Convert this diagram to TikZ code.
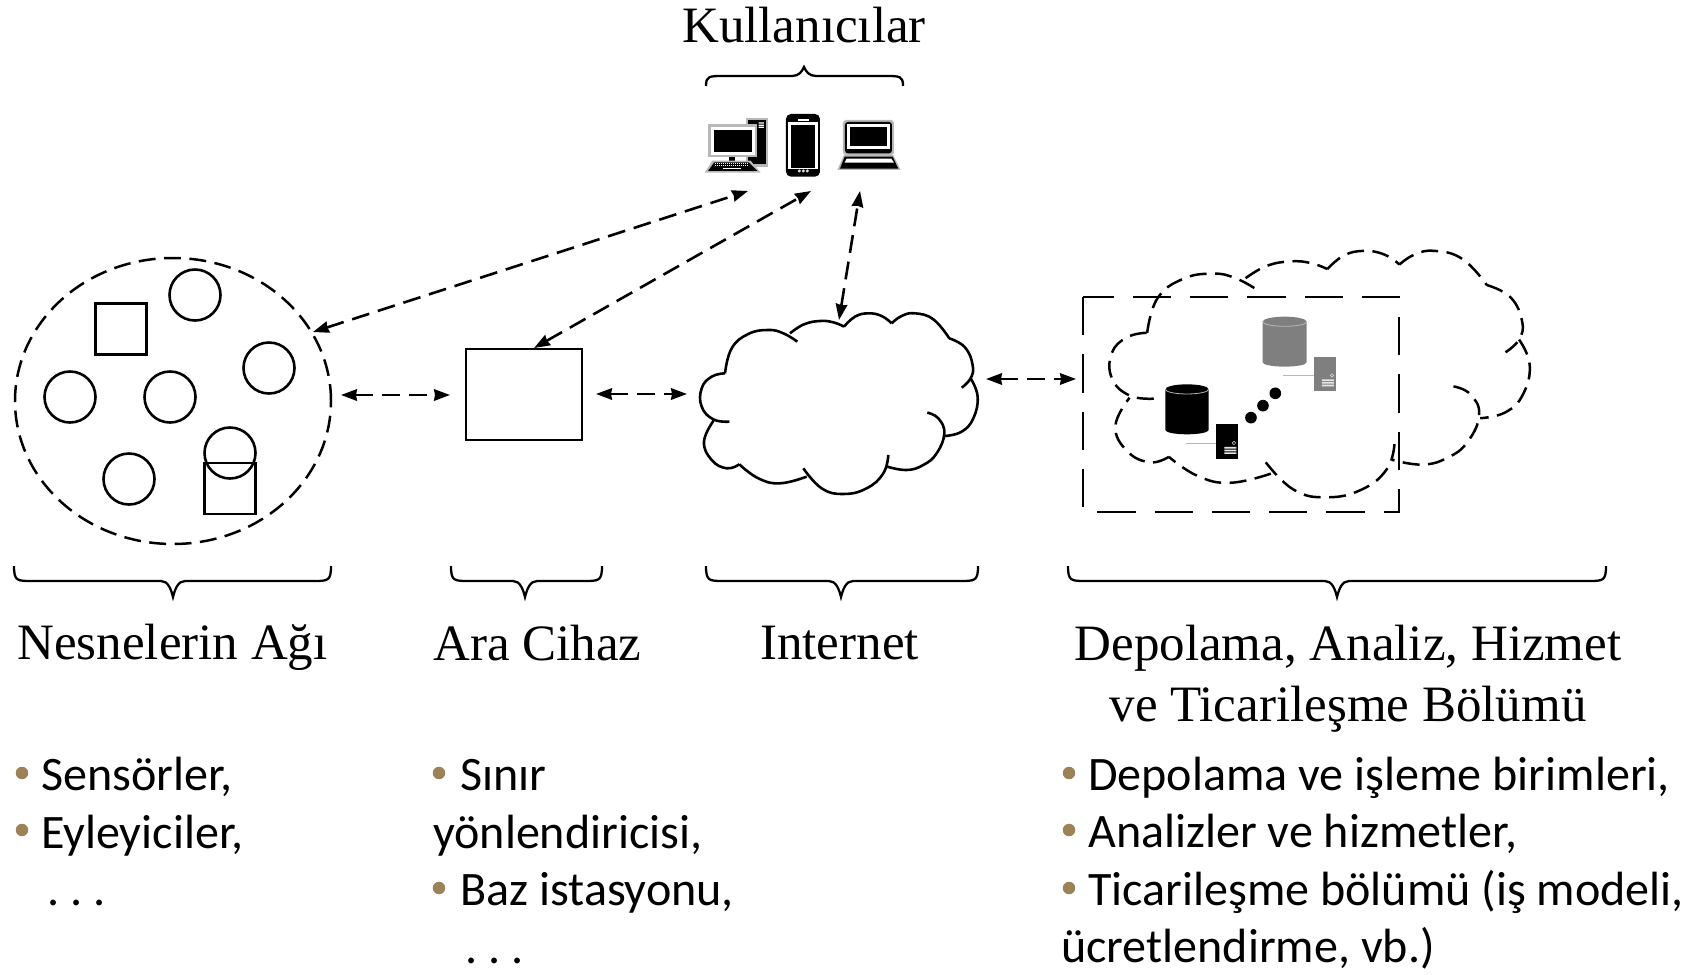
\documentclass[tikz,border=0pt]{standalone}
\usepackage{fontspec}
\usetikzlibrary{shapes.geometric,arrows.meta}
\setmainfont{Liberation Serif}
\newfontfamily\bodyfont{Carlito}
\definecolor{bulletcol}{HTML}{9B8357}
\definecolor{halo}{HTML}{B8B8B8}
\definecolor{dbgray}{HTML}{7F7F7F}
\tikzset{
  shapeline/.style={draw=black,line width=2.6pt},
  thing/.style={circle,shapeline,minimum size=51bp,inner sep=0pt},
  sqthing/.style={rectangle,shapeline,minimum size=51bp,inner sep=0pt},
  link/.style={line width=2.6pt,dash pattern=on 18pt off 9pt,{Stealth[length=16pt,width=11.5pt,inset=1pt]}-{Stealth[length=16pt,width=11.5pt,inset=1pt]}},
  brace/.style={line width=2.3pt},
  title/.style={font=\fontsize{51.2}{51.2}\selectfont,anchor=base,inner sep=0pt},
  body/.style={font=\bodyfont\fontsize{48.25}{48.25}\selectfont,anchor=base west,inner sep=0pt},
  bul/.style={circle,fill=bulletcol,inner sep=0pt,minimum size=12.5pt},
}
\newcommand{\curly}[6]{% x1 x2 xm yend yline ytip
  \draw[brace] (#1,#4) .. controls (#1,#5) and (#1+3,#5) .. (#1+18,#5) -- (#3-12,#5)
    .. controls (#3-5,#5) and (#3-2,#5+#6*.5-#5*.5) .. (#3,#6)
    .. controls (#3+2,#5+#6*.5-#5*.5) and (#3+5,#5) .. (#3+12,#5) -- (#2-18,#5)
    .. controls (#2-3,#5) and (#2,#5) .. (#2,#4);}
\newcommand{\cloudlobes}{%
  plot[smooth,tension=.75] coordinates {(135,250) (155,175) (205,132) (265,120) (310,130) (352,155)}
  plot[smooth,tension=.75] coordinates {(330,130) (372,103) (420,93) (460,97) (492,110)}
  plot[smooth,tension=.75] coordinates {(492,110) (525,80) (565,70) (605,78) (635,100)}
  plot[smooth,tension=.75] coordinates {(635,100) (665,78) (705,70) (760,88) (808,145)}
  plot[smooth,tension=.75] coordinates {(808,145) (855,172) (878,225) (872,265) (845,293)}
  plot[smooth,tension=.75] coordinates {(872,265) (893,320) (880,385) (845,425) (795,438)}
  plot[smooth,tension=.75] coordinates {(742,368) (775,385) (793,430) (770,490) (730,525) (680,540) (622,530)}
  plot[smooth,tension=.75] coordinates {(625,495) (610,550) (560,595) (490,612) (425,595) (370,535)}
  plot[smooth,tension=.75] coordinates {(380,560) (300,580) (235,565) (178,523)}
  plot[smooth,tension=.75] coordinates {(178,523) (140,535) (95,510) (72,455) (100,393)}
  plot[smooth,tension=.75] coordinates {(148,395) (100,388) (65,350) (65,295) (95,260) (135,250)}
}
\frenchspacing
\begin{document}
\begin{tikzpicture}[x=1bp,y=-1bp]
\useasboundingbox (0,0) rectangle (1691,974);
% --- things network
\node[ellipse,draw=black,line width=2.5pt,dash pattern=on 17pt off 8.5pt,minimum width=316bp,minimum height=286bp,inner sep=0pt] (net) at (173,401) {};
\foreach \n/\x/\y in {a/195/295,b/269/368,c/70/397,d/170/397,e/230/453,f/129/479}
  \node[thing] (\n) at (\x,\y) {};
\node[sqthing] (s1) at (121,329) {};
\node[sqthing] (s2) at (230,488.5) {};
% --- middle box
\node[rectangle,shapeline,minimum width=116bp,minimum height=91bp,inner sep=0pt] (gw) at (524,394.5) {};
% --- internet cloud
\begin{scope}[shift={(680,290)},x=.3333bp,y=-.3333bp]
  \draw[line width=2.6pt] \cloudlobes;
\end{scope}
% --- dashed cloud
\begin{scope}[shift={(1060,240)},x=.3333bp,y=-.3333bp]
 \begin{scope}[shift={(148,30)},xscale=1.514,yscale=1.364,shift={(-60,-68)}]
  \draw[line width=2.5pt,dash pattern=on 17pt off 8.5pt] \cloudlobes;
 \end{scope}
\end{scope}
% --- dashed rectangle
\coordinate (rTL) at (1083,297);
\coordinate (rBL) at (1083,512);
\coordinate (rBR) at (1399,512);
\coordinate (rTR) at (1399,297);
\draw[line width=2.6pt,dash pattern=on 38.3bp off 19bp] (rTL)--(rBL)--(rBR)--(rTR)--cycle;
% --- storage
\begin{scope}[shift={(1060,240)},x=.3333bp,y=-.3333bp]
  % grey db
  \fill[dbgray] (608,245) arc[start angle=180,end angle=360,x radius=66,y radius=15] -- (740,367) arc[start angle=0,end angle=180,x radius=66,y radius=13] -- cycle;
  \draw[line width=.8pt,halo] (608,245) arc[start angle=180,end angle=0,x radius=66,y radius=14];
  \draw[line width=.8pt,halo] (670,406) -- (762,406);
  \fill[dbgray] (762,350) rectangle (829,454);
  \fill[white!80!gray] (786,418) rectangle (822,423) (786,426) rectangle (822,431) (786,434) rectangle (822,439);
  \draw[white!80!gray,line width=.5pt] (816,406) circle[radius=5];
  % black db
  \fill[black] (316,448) arc[start angle=180,end angle=360,x radius=65,y radius=15] -- (446,570) arc[start angle=0,end angle=180,x radius=65,y radius=13] -- cycle;
  \draw[line width=.8pt,halo] (316,448) arc[start angle=180,end angle=0,x radius=65,y radius=14];
  \draw[line width=.8pt,halo] (377,609) -- (470,609);
  \fill[black] (469,553) rectangle (535,657);
  \fill[white!80!gray] (493,621) rectangle (529,626) (493,629) rectangle (529,634) (493,637) rectangle (529,642);
  \draw[white!80!gray,line width=.5pt] (522,609) circle[radius=5];
  \foreach \p in {(573,533),(609,497),(646,460)} \fill \p circle[radius=17.5];
\end{scope}
% --- user icons
\begin{scope}[shift={(680,60)},x=.3333bp,y=-.3333bp]
  % desktop
  \fill[halo] (198,173) rectangle (265,320);
  \fill[black] (205,180) rectangle (258,313);
  \fill[white] (236,187) rectangle (252,191) (236,194) rectangle (252,198) (236,200) rectangle (252,204);
  \fill[halo] (84,193) rectangle (232,292);
  \fill[white] (92,202) rectangle (224,284);
  \fill[black] (102,211) rectangle (215,277);
  \fill[black] (146,292) rectangle (166,302);
  \fill[halo] (97,302) -- (212,302) -- (242,338) -- (74,338) -- cycle;
  \fill[black] (103,307) -- (206,307) -- (232,333) -- (84,333) -- cycle;
  \foreach \y in {312,318} \draw[white,line width=1pt,dash pattern=on 1.2pt off .8pt] (105,\y) -- (205,\y);
  \draw[white,line width=1.2pt] (130,326) -- (182,326);
  % phone
  \fill[black,rounded corners=5pt] (318,162) rectangle (420,350);
  \fill[white] (325,185) rectangle (413,335);
  \fill[black] (333,195) rectangle (406,323);
  \fill[white] (354,177) rectangle (386,184);
  \fill[black] (325,328) rectangle (413,336);
  \foreach \x in {358,370,382} \fill[white!70!gray] (\x,333) circle[radius=5];
  % laptop
  \fill[halo,rounded corners=3pt] (489,180) rectangle (642,285);
  \fill[black,rounded corners=3pt] (495,186) rectangle (636,280);
  \fill[white] (501,193) rectangle (631,268);
  \fill[black] (510,202) rectangle (622,258);
  \fill[halo] (492,285) -- (640,285) -- (662,330) -- (472,330) -- cycle;
  \fill[black] (494,290) -- (638,290) -- (655,326) -- (480,326) -- cycle;
  \fill[white] (500,296) -- (634,296) -- (642,308) -- (494,308) -- cycle;
\end{scope}
% --- connector end points
\coordinate (u1) at (748,191);
\coordinate (u2) at (811,191);
\coordinate (u3) at (860,191);
\coordinate (n1) at (313,332);
\coordinate (n2) at (341,395);
\coordinate (g1) at (450,395);
\coordinate (g2) at (534,348);
\coordinate (g3) at (596,394);
\coordinate (c1) at (687,394);
\coordinate (c2) at (839,320);
\coordinate (c3) at (986,379);
\coordinate (r1) at (1076,379);
\draw[link] (n1) -- (u1);
\draw[link] (g2) -- (u2);
\draw[link] (c2) -- (u3);
\draw[link] (n2) -- (g1);
\draw[link] (g3) -- (c1);
\draw[link] (c3) -- (r1);
% --- braces
\curly{706}{903}{804}{86}{76}{67}
\curly{14}{331}{173}{566}{581}{597}
\curly{451}{602}{525}{566}{581}{597}
\curly{706}{978}{841}{566}{581}{597}
\curly{1068}{1606}{1337}{566}{581}{597}
% --- titles
\node[title] (tU) at (804,42) {Kullanıcılar};
\node[title] (t1) at (172.5,659) {Nesnelerin Ağı};
\node[title] (t2) at (537.5,660) {Ara Cihaz};
\node[title] (t3) at (839.5,659) {Internet};
\node[title] (t4) at (1348,660) {Depolama, Analiz, Hizmet};
\node[title] (t5) at (1348,721) {ve Ticarileşme Bölümü};
% --- lists
\node[bul] (b1) at (22,773) {};
\node[bul] (b2) at (22,830) {};
\node[body] (l1) at (41,790) {Sensörler,};
\node[body] (l2) at (41,848) {Eyleyiciler,};
\node[body] (l3) at (47,905) {. . .};
\node[bul] (b3) at (439,773) {};
\node[bul] (b4) at (439,888) {};
\node[body] (m1) at (460,790) {Sınır};
\node[body] (m2) at (433,848) {yönlendiricisi,};
\node[body] (m3) at (460,905) {Baz istasyonu,};
\node[body] (m4) at (465,963) {. . .};
\node[bul] (b5) at (1069,773) {};
\node[bul] (b6) at (1069,830) {};
\node[bul] (b7) at (1069,888) {};
\node[body] (r1t) at (1088,790) {Depolama ve işleme birimleri,};
\node[body] (r2t) at (1088,847) {Analizler ve hizmetler,};
\node[body] (r3t) at (1088,905) {Ticarileşme bölümü (iş modeli,};
\node[body] (r4t) at (1061,962) {ücretlendirme, vb.)};
\end{tikzpicture}
\end{document}
